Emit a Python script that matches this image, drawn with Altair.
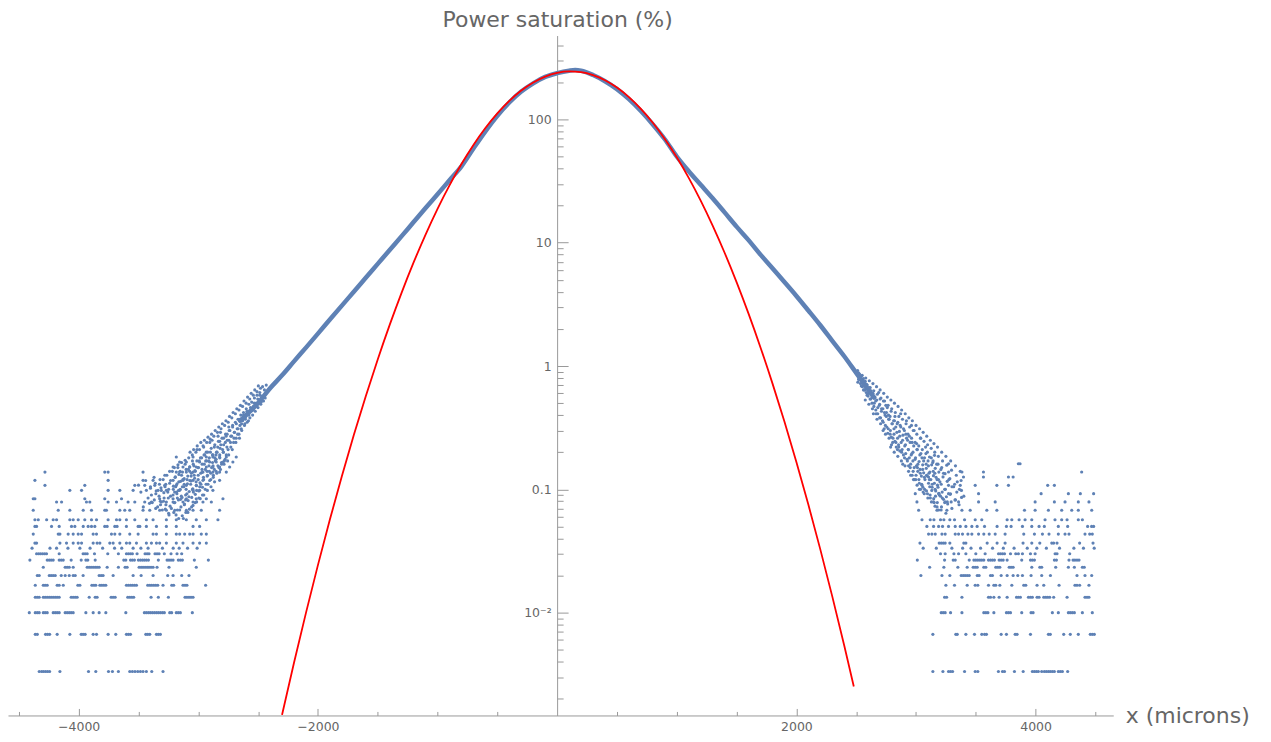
import altair as alt
import pandas as pd

# ---------------- data ----------------
# Gaussian fit (red curve), x in microns, value in %
red_x = [-2300, -2200, -2100, -2000, -1900, -1800, -1700, -1600, -1500, -1400,
         -1300, -1200, -1100, -1000, -900, -800, -700, -600, -500, -400,
         -300, -200, -100, 0, 100, 200, 300, 400, 500, 600,
         700, 800, 900, 1000, 1100, 1200, 1300, 1400, 1500, 1600,
         1700, 1800, 1900, 2000, 2100, 2200, 2300, 2400, 2480]
red_v = [0.001481, 0.00392, 0.00996, 0.02429, 0.05685, 0.1277, 0.2754, 0.5696, 1.131, 2.155,
         3.94, 6.915, 11.64, 18.82, 29.18, 43.45, 62.08, 85.1, 112.0, 141.4,
         171.3, 199.2, 222.4, 238.2, 244.8, 241.5, 228.7, 207.8, 181.2, 151.6,
         121.8, 93.87, 69.41, 49.28, 33.57, 21.95, 13.77, 8.29, 4.792, 2.658,
         1.415, 0.7227, 0.3541, 0.1666, 0.07521, 0.03259, 0.01355, 0.005408, 0.002518]

# dense central band of the measured profile
band_x = [-2650, -2600, -2500, -2400, -2300, -2200, -2100, -2000, -1900, -1800,
          -1700, -1600, -1500, -1400, -1300, -1200, -1100, -1000, -900, -800,
          -700, -600, -500, -400, -300, -200, -100, 0, 100, 150,
          200, 300, 400, 500, 600, 700, 800, 900, 1000, 1100,
          1200, 1300, 1400, 1500, 1600, 1700, 1800, 1900, 2000, 2100,
          2200, 2300, 2400, 2500, 2600, 2650]
band_v = [0.36, 0.40, 0.50, 0.66, 0.84, 1.09, 1.41, 1.83, 2.38, 3.09,
          4.0, 5.19, 6.73, 8.73, 11.3, 14.7, 19.1, 24.7, 32.1, 41.6,
          58, 80, 107, 137, 168, 196, 221, 237, 248, 251,
          248, 229, 204, 176, 146, 117, 91, 69, 50, 38,
          29.5, 22.9, 17.6, 13.5, 10.5, 8.0, 6.2, 4.8, 3.7, 2.82,
          2.14, 1.60, 1.20, 0.88, 0.645, 0.555]

# noisy clouds where the profile meets the noise floor (x, value)
left_cloud = [
    (-2432, 0.70), (-2441, 0.55), (-2447, 0.64), (-2455, 0.52), (-2463, 0.68), (-2470, 0.57),
    (-2478, 0.49), (-2486, 0.61), (-2493, 0.53), (-2501, 0.46), (-2509, 0.58), (-2516, 0.50),
    (-2524, 0.43), (-2531, 0.55), (-2539, 0.47), (-2546, 0.40), (-2554, 0.51), (-2562, 0.44),
    (-2569, 0.38), (-2577, 0.49), (-2584, 0.41), (-2592, 0.35), (-2599, 0.45), (-2607, 0.38),
    (-2614, 0.33), (-2622, 0.42), (-2630, 0.36), (-2637, 0.30), (-2645, 0.40), (-2652, 0.33),
    (-2660, 0.28), (-2668, 0.37), (-2675, 0.31), (-2683, 0.26), (-2690, 0.35), (-2698, 0.29),
    (-2705, 0.24), (-2713, 0.33), (-2721, 0.27), (-2728, 0.22), (-2736, 0.30), (-2744, 0.25),
    (-2751, 0.21), (-2759, 0.28), (-2766, 0.19), (-2774, 0.24), (-2782, 0.17), (-2789, 0.26),
    (-2797, 0.21), (-2805, 0.16), (-2812, 0.23), (-2820, 0.18), (-2828, 0.15), (-2835, 0.27),
    (-2843, 0.20), (-2851, 0.14), (-2858, 0.17), (-2866, 0.22), (-2874, 0.13), (-2881, 0.19),
    (-2889, 0.15), (-2896, 0.12), (-2904, 0.24), (-2912, 0.17), (-2919, 0.11), (-2927, 0.14),
    (-2934, 0.20), (-2942, 0.10), (-2950, 0.16), (-2957, 0.125), (-2965, 0.09), (-2972, 0.18),
    (-2980, 0.135), (-2988, 0.105), (-2995, 0.085), (-3003, 0.15), (-3011, 0.21), (-3018, 0.115),
    (-3026, 0.078), (-3034, 0.13), (-3041, 0.095), (-3049, 0.17), (-3056, 0.072), (-3064, 0.11),
    (-3072, 0.14), (-3079, 0.087), (-3087, 0.065), (-3094, 0.12), (-3102, 0.10), (-3110, 0.16),
    (-3117, 0.075), (-3125, 0.058), (-3133, 0.105), (-3140, 0.13), (-3148, 0.083), (-3156, 0.068),
    (-3163, 0.115), (-3171, 0.15), (-3179, 0.092), (-3186, 0.062), (-3194, 0.125), (-3202, 0.078),
    (-3209, 0.10), (-3217, 0.14), (-3225, 0.07), (-3232, 0.088), (-3240, 0.112), (-3248, 0.064),
    (-3255, 0.095), (-3263, 0.13), (-3271, 0.075), (-3278, 0.105), (-3286, 0.085), (-3294, 0.12),
    (-3301, 0.068), (-3309, 0.098), (-3317, 0.08), (-3325, 0.11), (-3340, 0.072), (-3355, 0.092),
    (-3370, 0.125), (-3385, 0.078), (-3400, 0.102), (-3420, 0.085), (-3440, 0.118), (-3460, 0.072),
    (-3480, 0.095), (-3500, 0.108),
    (-2745, 0.32), (-2768, 0.27), (-2791, 0.20), (-2815, 0.29), (-2838, 0.22), (-2862, 0.18),
    (-2885, 0.25), (-2908, 0.14), (-2931, 0.17), (-2955, 0.22), (-2978, 0.11), (-3001, 0.12),
    (-3025, 0.14), (-3048, 0.10), (-3071, 0.118), (-3095, 0.092), (-3118, 0.11), (-3142, 0.088),
    (-3165, 0.098), (-3189, 0.105), (-2821, 0.245), (-2852, 0.19), (-2877, 0.155), (-2899, 0.20),
    (-2923, 0.13), (-2946, 0.19), (-2969, 0.145), (-2992, 0.17), (-3014, 0.098), (-3037, 0.155),
    (-3060, 0.128), (-3083, 0.145), (-3106, 0.082), (-3129, 0.12), (-3152, 0.14), (-3175, 0.085),
    (-3198, 0.095),
    (-2480, 0.66), (-2486, 0.58), (-2474, 0.51),
    (-2510, 0.62), (-2503, 0.54), (-2517, 0.47), (-2498, 0.69),
    (-2540, 0.58), (-2533, 0.50), (-2547, 0.44), (-2528, 0.64),
    (-2570, 0.54), (-2563, 0.46), (-2577, 0.40), (-2558, 0.60), (-2581, 0.36),
    (-2600, 0.50), (-2593, 0.43), (-2607, 0.37), (-2588, 0.56), (-2611, 0.34),
    (-2630, 0.47), (-2622, 0.40), (-2638, 0.34), (-2618, 0.52), (-2641, 0.31),
    (-2660, 0.44), (-2652, 0.37), (-2668, 0.31), (-2648, 0.48), (-2671, 0.28), (-2656, 0.26),
    (-2690, 0.41), (-2682, 0.34), (-2698, 0.29), (-2678, 0.45), (-2701, 0.26), (-2686, 0.24),
    (-2720, 0.38), (-2713, 0.32), (-2728, 0.27), (-2709, 0.42), (-2731, 0.24), (-2716, 0.21),
    (-2750, 0.35), (-2742, 0.30), (-2758, 0.25), (-2739, 0.39), (-2761, 0.22), (-2746, 0.19),
    (-2755, 0.17), (-2780, 0.33), (-2772, 0.28), (-2788, 0.23), (-2769, 0.36), (-2791, 0.20),
    (-2776, 0.175), (-2785, 0.16), (-2810, 0.31), (-2802, 0.26), (-2818, 0.215), (-2799, 0.34),
    (-2821, 0.19), (-2806, 0.165), (-2815, 0.145), (-2840, 0.29), (-2832, 0.245), (-2848, 0.20),
    (-2829, 0.32), (-2851, 0.175), (-2836, 0.155), (-2845, 0.135), (-2870, 0.27), (-2862, 0.23),
    (-2878, 0.19), (-2859, 0.30), (-2881, 0.165), (-2866, 0.145), (-2875, 0.125), (-2864, 0.115),
    (-2900, 0.255), (-2892, 0.215), (-2908, 0.18), (-2889, 0.28), (-2911, 0.155), (-2896, 0.135),
    (-2905, 0.118), (-2894, 0.105), (-2930, 0.24), (-2922, 0.20), (-2938, 0.17), (-2919, 0.265),
    (-2941, 0.145), (-2926, 0.128), (-2935, 0.11), (-2924, 0.098), (-2960, 0.225), (-2952, 0.19),
    (-2968, 0.16), (-2949, 0.25), (-2971, 0.137), (-2956, 0.12), (-2965, 0.104), (-2954, 0.09),
    (-2990, 0.21), (-2982, 0.18), (-2998, 0.15), (-2979, 0.24), (-3001, 0.13), (-2986, 0.113),
    (-2995, 0.097), (-2984, 0.084), (-3020, 0.20), (-3012, 0.17), (-3028, 0.142), (-3009, 0.225),
    (-3031, 0.123), (-3016, 0.107), (-3025, 0.091), (-3014, 0.079), (-3050, 0.19), (-3042, 0.16),
    (-3058, 0.135), (-3039, 0.21), (-3061, 0.117), (-3046, 0.101), (-3055, 0.086), (-3044, 0.074),
    (-3080, 0.18), (-3072, 0.152), (-3088, 0.128), (-3069, 0.20), (-3091, 0.111), (-3076, 0.096),
    (-3085, 0.081), (-3074, 0.069), (-3110, 0.172), (-3102, 0.145), (-3118, 0.122), (-3121, 0.105),
    (-3106, 0.09), (-3115, 0.076), (-3104, 0.065), (-3140, 0.165), (-3132, 0.138), (-3148, 0.116),
    (-3151, 0.10), (-3136, 0.086), (-3145, 0.072), (-3134, 0.061), (-3170, 0.158), (-3162, 0.132),
    (-3178, 0.111), (-3181, 0.095), (-3166, 0.082), (-3175, 0.068), (-3164, 0.058), (-3200, 0.15),
    (-3192, 0.126), (-3208, 0.106), (-3211, 0.09), (-3196, 0.078), (-3205, 0.065), (-3240, 0.14),
    (-3232, 0.118), (-3248, 0.10), (-3251, 0.085), (-3236, 0.073), (-3245, 0.062), (-3280, 0.13),
    (-3272, 0.11), (-3288, 0.094), (-3291, 0.08), (-3276, 0.069), (-3320, 0.12), (-3312, 0.103),
    (-3328, 0.088), (-3316, 0.075), (-3360, 0.112), (-3352, 0.097), (-3368, 0.082), (-3356, 0.07),
    (-3400, 0.105), (-3392, 0.09), (-3408, 0.077),
]
right_cloud = [
    (2512, 0.92), (2520, 0.78), (2528, 0.86), (2536, 0.72), (2544, 0.83), (2552, 0.68),
    (2560, 0.79), (2568, 0.64), (2576, 0.75), (2584, 0.61), (2592, 0.70), (2600, 0.57),
    (2608, 0.67), (2616, 0.54), (2624, 0.63), (2632, 0.50), (2640, 0.60), (2648, 0.47),
    (2656, 0.56), (2664, 0.44), (2672, 0.53), (2680, 0.41), (2688, 0.61), (2696, 0.49),
    (2704, 0.38), (2712, 0.45), (2720, 0.36), (2728, 0.52), (2736, 0.42), (2744, 0.33),
    (2752, 0.39), (2760, 0.46), (2768, 0.31), (2776, 0.37), (2784, 0.28), (2792, 0.43),
    (2800, 0.34), (2808, 0.26), (2816, 0.31), (2824, 0.39), (2832, 0.24), (2840, 0.29),
    (2848, 0.35), (2856, 0.22), (2864, 0.27), (2872, 0.41), (2880, 0.20), (2888, 0.25),
    (2896, 0.31), (2904, 0.18), (2912, 0.23), (2920, 0.36), (2928, 0.17), (2936, 0.21),
    (2944, 0.27), (2952, 0.15), (2960, 0.19), (2968, 0.24), (2976, 0.14), (2984, 0.30),
    (2992, 0.175), (3000, 0.13), (3008, 0.21), (3016, 0.16), (3024, 0.12), (3032, 0.19),
    (3040, 0.26), (3048, 0.11), (3056, 0.145), (3064, 0.17), (3072, 0.10), (3080, 0.22),
    (3088, 0.13), (3096, 0.092), (3104, 0.155), (3112, 0.12), (3120, 0.085), (3128, 0.18),
    (3136, 0.11), (3144, 0.14), (3152, 0.078), (3160, 0.10), (3168, 0.125), (3176, 0.072),
    (3184, 0.16), (3192, 0.093), (3200, 0.115), (3210, 0.068), (3220, 0.085), (3230, 0.135),
    (3240, 0.10), (3250, 0.064), (3262, 0.079), (3275, 0.12), (3288, 0.092), (3300, 0.07),
    (3315, 0.105), (3330, 0.082), (3345, 0.115), (3360, 0.075), (3380, 0.098), (3400, 0.088),
    (2700, 0.54), (2725, 0.30), (2748, 0.48), (2770, 0.40), (2795, 0.23), (2820, 0.36),
    (2845, 0.21), (2868, 0.33), (2890, 0.16), (2915, 0.28), (2938, 0.155), (2962, 0.33),
    (2985, 0.12), (3005, 0.235), (3028, 0.10), (3050, 0.18), (3070, 0.125), (3095, 0.20),
    (3115, 0.105), (3140, 0.165), (3163, 0.088), (3188, 0.12), (3215, 0.15), (3240, 0.078),
    (2930, 0.25), (2955, 0.13), (2975, 0.20), (3012, 0.15), (3036, 0.135), (3060, 0.095),
    (3085, 0.16), (3108, 0.135), (3132, 0.098), (3158, 0.135), (3180, 0.108), (3205, 0.088),
    (2520, 0.88), (2527, 0.80), (2514, 0.74), (2550, 0.84), (2557, 0.76), (2543, 0.69),
    (2561, 0.64), (2580, 0.80), (2587, 0.71), (2573, 0.64), (2591, 0.58), (2576, 0.53),
    (2610, 0.76), (2617, 0.67), (2603, 0.60), (2621, 0.54), (2606, 0.49), (2640, 0.72),
    (2647, 0.63), (2633, 0.56), (2651, 0.50), (2636, 0.45), (2644, 0.41), (2670, 0.68),
    (2677, 0.59), (2663, 0.52), (2681, 0.46), (2666, 0.41), (2674, 0.37), (2700, 0.64),
    (2707, 0.55), (2693, 0.48), (2711, 0.43), (2696, 0.38), (2704, 0.34), (2730, 0.60),
    (2737, 0.52), (2723, 0.45), (2741, 0.40), (2726, 0.35), (2734, 0.31), (2745, 0.28),
    (2760, 0.56), (2767, 0.48), (2753, 0.42), (2771, 0.37), (2756, 0.32), (2764, 0.285),
    (2775, 0.26), (2790, 0.53), (2797, 0.45), (2783, 0.39), (2801, 0.34), (2786, 0.30),
    (2794, 0.265), (2805, 0.24), (2788, 0.22), (2820, 0.50), (2827, 0.42), (2813, 0.36),
    (2831, 0.32), (2816, 0.28), (2824, 0.245), (2835, 0.22), (2818, 0.20), (2850, 0.47),
    (2857, 0.39), (2843, 0.34), (2861, 0.295), (2846, 0.26), (2854, 0.23), (2865, 0.205),
    (2848, 0.185), (2880, 0.44), (2887, 0.37), (2873, 0.32), (2891, 0.275), (2876, 0.24),
    (2884, 0.21), (2895, 0.19), (2878, 0.17), (2910, 0.41), (2917, 0.34), (2903, 0.30),
    (2921, 0.26), (2906, 0.225), (2914, 0.195), (2925, 0.175), (2908, 0.155), (2940, 0.38),
    (2947, 0.32), (2933, 0.28), (2951, 0.24), (2936, 0.21), (2944, 0.18), (2955, 0.16),
    (2938, 0.14), (2970, 0.36), (2977, 0.30), (2963, 0.26), (2981, 0.225), (2966, 0.195),
    (2974, 0.17), (2985, 0.15), (2968, 0.13), (2979, 0.12), (3000, 0.33), (3007, 0.28),
    (2993, 0.24), (3011, 0.21), (2996, 0.18), (3004, 0.155), (3015, 0.14), (2998, 0.12),
    (3009, 0.108), (3030, 0.31), (3037, 0.26), (3023, 0.225), (3041, 0.195), (3026, 0.168),
    (3034, 0.145), (3045, 0.128), (3028, 0.112), (3039, 0.10), (3060, 0.29), (3067, 0.245),
    (3053, 0.21), (3071, 0.18), (3056, 0.158), (3064, 0.136), (3075, 0.12), (3058, 0.104),
    (3069, 0.092), (3090, 0.27), (3097, 0.23), (3083, 0.195), (3101, 0.17), (3086, 0.148),
    (3094, 0.128), (3105, 0.112), (3088, 0.097), (3099, 0.085), (3120, 0.25), (3127, 0.215),
    (3113, 0.183), (3131, 0.158), (3116, 0.138), (3124, 0.12), (3135, 0.104), (3118, 0.09),
    (3129, 0.079), (3150, 0.235), (3157, 0.20), (3143, 0.17), (3161, 0.148), (3146, 0.129),
    (3154, 0.112), (3165, 0.097), (3148, 0.084), (3159, 0.073), (3180, 0.22), (3187, 0.185),
    (3173, 0.16), (3191, 0.138), (3176, 0.12), (3184, 0.104), (3195, 0.09), (3178, 0.078),
    (3189, 0.068), (3215, 0.20), (3222, 0.17), (3208, 0.145), (3226, 0.126), (3211, 0.11),
    (3219, 0.095), (3230, 0.083), (3213, 0.072), (3250, 0.185), (3257, 0.157), (3243, 0.134),
    (3261, 0.116), (3246, 0.10), (3254, 0.087), (3265, 0.076), (3290, 0.17), (3297, 0.143),
    (3283, 0.122), (3301, 0.105), (3286, 0.091), (3294, 0.079), (3330, 0.155), (3337, 0.13),
    (3323, 0.11), (3341, 0.095), (3326, 0.082), (3370, 0.14), (3377, 0.118), (3363, 0.10),
    (3381, 0.086),
]

# tails: readings lie on discrete levels (value, x positions)
left_rows = [
    (0.003333, [-4330, -4310, -4294, -4277, -4260, -4243, -4157, -3918, -3857, -3751, -3718, -3668,
                -3573, -3551, -3529, -3506, -3484, -3462, -3434, -3389, -3295]),
    (0.006667, [-4363, -4346, -4277, -4260, -4243, -4180, -4074, -3979, -3963, -3946, -3879, -3851,
                -3754, -3690, -3601, -3584, -3567, -3439, -3423, -3406, -3350, -3334, -3317]),
    (0.01, [-4413, -4363, -4346, -4330, -4296, -4280, -4263, -4213, -4196, -4180, -4163, -4113, -4096,
            -4079, -4063, -4046, -3940, -3879, -3829, -3773, -3606, -3451, -3434, -3417, -3401, -3384,
            -3367, -3350, -3334, -3317, -3300, -3284, -3239, -3223, -3184, -3167, -3150, -3050]),
    (0.013333, [-4363, -4346, -4330, -4296, -4280, -4263, -4246, -4230, -4213, -4196, -4180, -4163,
                -4063, -4046, -4029, -4013, -3912, -3862, -3846, -3729, -3712, -3695, -3590, -3573,
                -3556, -3540, -3395, -3334, -3250, -3111, -3095, -3078, -3061, -3044]),
    (0.016667, [-4363, -4296, -4280, -4263, -4180, -4163, -4129, -4007, -3990, -3890, -3873, -3857,
                -3823, -3807, -3790, -3773, -3601, -3584, -3567, -3551, -3534, -3517, -3423, -3406,
                -3390, -3373, -3356, -3339, -3295, -3222, -3206, -3128, -3111, -3095, -2939]),
    (0.02, [-4346, -4330, -4246, -4230, -4213, -4196, -4146, -4113, -4079, -4046, -4029, -3963, -3829,
            -3812, -3796, -3712, -3545, -3478, -3378, -3256, -3211, -3139, -3078]),
    (0.023333, [-4296, -4113, -4096, -4079, -4046, -3929, -3912, -3896, -3879, -3862, -3846, -3829,
                -3762, -3668, -3612, -3595, -3495, -3478, -3462, -3445, -3428, -3412, -3395, -3378,
                -3345, -3245, -3017]),
    (0.026667, [-4408, -4263, -4246, -4230, -4213, -4163, -4146, -4129, -4063, -3979, -3940, -3924,
                -3862, -3623, -3606, -3567, -3551, -3534, -3501, -3484, -3467, -3451, -3434, -3417,
                -3334, -3261, -3245, -3228, -3211, -3167, -3150, -3133, -3033, -2916]),
    (0.03, [-4352, -4335, -4319, -4302, -4285, -4269, -4163, -3963, -3946, -3929, -3868, -3757, -3668,
            -3601, -3584, -3567, -3551, -3512, -3445, -3428, -3412, -3362, -3345, -3328, -3284, -3228,
            -3178, -3139]),
    (0.033333, [-4390, -4240, -4185, -4090, -3990, -3905, -3800, -3700, -3640, -3545, -3480, -3420,
                -3300, -3210, -3160, -3090, -3010]),
    (0.036667, [-4366, -4352, -4157, -4102, -4046, -4004, -3976, -3879, -3846, -3823, -3740, -3712,
                -3656, -3601, -3573, -3517, -3434, -3392, -3350, -3323, -3267, -3184, -3128, -3044,
                -2989, -2933]),
    (0.043333, [-4380, -4171, -4157, -4088, -4046, -4004, -3976, -3879, -3851, -3726, -3698, -3656,
                -3573, -3503, -3378, -3350, -3267, -3184, -3156, -3114, -3072, -3044, -2975, -2933]),
    (0.05, [-4366, -4352, -4227, -4163, -4060, -4032, -3962, -3921, -3893, -3865, -3782, -3762, -3698,
            -3679, -3601, -3503, -3489, -3434, -3350, -3267, -3184, -3044, -2989]),
    (0.056667, [-4366, -4338, -4268, -4213, -4185, -4074, -4046, -4004, -3949, -3893, -3851, -3754,
                -3684, -3656, -3601, -3531, -3434, -3378, -3267, -3184, -3100, -3017, -2933, -2836]),
    (0.0676, [-4380, -4171, -4074, -3962, -3893, -3782, -3768, -3656, -3615, -3573, -3462, -3406,
              -3323, -3267, -3197, -3100, -3044, -2975, -2822]),
    (0.0789, [-4185, -4143, -3935, -3907, -3754, -3684, -3587, -3531, -3448, -3392, -3309, -3267,
              -3211, -3128, -3044, -2961, -2891]),
    (0.0839, [-4380, -4366, -3949, -3782, -3642, -3323, -3211, -3100, -3017, -2933, -2794]),
    (0.0981, [-4074, -3976, -3754, -3656, -3545, -3434, -3336, -3267, -3156, -3044, -2989, -2878]),
    (0.1077, [-4282, -3949, -3531, -3448, -3364, -3281, -3184, -3100, -3017]),
    (0.1182, [-4366, -3754, -3462, -3378, -3211, -3128, -3044, -2961, -2822]),
    (0.138, [-4282, -3782, -3754, -3462, -3184, -3156, -3100, -3044, -2961, -2878, -2822, -2766]),
    (0.1516, [-3211, -3128, -3072, -3017, -2933, -2878, -2822, -2738]),
    (0.1665, [-3156, -3100, -2989, -2905, -2850, -2794, -2711]),
    (0.183, [-3184, -3044, -2933, -2878, -2822, -2766, -2683]),
]
right_rows = [
    (0.003333, [3141, 3225, 3272, 3289, 3306, 3406, 3495, 3517, 3689, 3723, 3740, 3823, 3896, 3973,
                3990, 4007, 4023, 4051, 4073, 4090, 4107, 4123, 4140, 4157, 4190, 4207, 4224, 4268]),
    (0.006667, [3141, 3333, 3345, 3417, 3489, 3550, 3573, 3589, 3712, 3756, 3829, 3845, 3957, 4107,
                4123, 4235, 4290, 4357, 4457, 4474, 4491]),
    (0.01, [3211, 3228, 3244, 3289, 3384, 3567, 3584, 3601, 3651, 3756, 3773, 3790, 3884, 3962, 3979,
            4140, 4190, 4274, 4290, 4307, 4324, 4391, 4474]),
    (0.013333, [3239, 3256, 3384, 3606, 3623, 3651, 3695, 3762, 3840, 3856, 3873, 3940, 3957, 3973,
                4012, 4029, 4068, 4085, 4101, 4118, 4151, 4263, 4413, 4430, 4446]),
    (0.016667, [3250, 3322, 3428, 3495, 3517, 3606, 3651, 3667, 3701, 3801, 3901, 3918, 4012, 4068,
                4196, 4329, 4346, 4368, 4446]),
    (0.02, [3041, 3217, 3283, 3378, 3395, 3411, 3428, 3445, 3512, 3528, 3623, 3639, 3712, 3762, 3812,
            3851, 3890, 3962, 4051, 4124, 4346, 4413, 4469]),
    (0.023333, [3114, 3233, 3350, 3428, 3478, 3495, 3512, 3567, 3584, 3667, 3684, 3701, 3779, 3795,
                3812, 3968, 4035, 4051, 4168, 4274, 4324, 4391, 4407]),
    (0.026667, [3011, 3239, 3311, 3328, 3445, 3484, 3500, 3517, 3534, 3550, 3567, 3606, 3623, 3639,
                3656, 3695, 3712, 3729, 3762, 3884, 3957, 3973, 3990, 4157, 4174, 4279, 4313, 4329,
                4346, 4363]),
    (0.03, [3205, 3244, 3317, 3356, 3417, 3500, 3578, 3690, 3706, 3723, 3740, 3790, 3834, 3856, 3890,
            3957, 3996, 4163, 4179, 4285]),
    (0.033333, [3060, 3170, 3300, 3390, 3460, 3540, 3640, 3730, 3820, 3930, 4010, 4090, 4200, 4320,
                4400, 4490]),
    (0.036667, [3033, 3194, 3211, 3228, 3244, 3283, 3400, 3417, 3595, 3678, 3745, 3895, 3968, 4035,
                4135, 4151, 4179, 4368, 4480]),
    (0.043333, [3105, 3133, 3161, 3217, 3244, 3328, 3356, 3389, 3434, 3467, 3523, 3567, 3612, 3662,
                3745, 3901, 3990, 4057, 4112, 4190, 4246, 4279, 4413, 4452, 4474]),
    (0.05, [3091, 3147, 3189, 3222, 3272, 3328, 3370, 3417, 3467, 3511, 3573, 3678, 3756, 3795, 3890,
            3968, 4029, 4073, 4190, 4268, 4435, 4468, 4485]),
    (0.056667, [3050, 3119, 3150, 3205, 3233, 3283, 3322, 3406, 3495, 3550, 3762, 3801, 3862, 3912,
                3968, 4079, 4162, 4218, 4263, 4357, 4391]),
    (0.0676, [3022, 3175, 3258, 3384, 3453, 3592, 3676, 3907, 3996, 4107, 4218, 4302, 4357, 4469]),
    (0.079, [3008, 3147, 3244, 3356, 3523, 3662, 3996, 4157, 4246, 4357, 4446]),
    (0.0922, [2994, 3189, 3272, 3523, 4046, 4274, 4374, 4485]),
    (0.1077, [3050, 3272, 3370, 3495, 3676, 3773, 4101, 4157]),
    (0.1258, [3105, 3397, 3564, 3773, 3812]),
    (0.1381, [3272, 3384, 3564, 4385]),
    (0.1613, [3272, 3856, 3870]),
    (0.1885, [3155]),
]

# axis ticks
x_ticks = [-4500, -4000, -3500, -3000, -2500, -2000, -1500, -1000, -500,
           500, 1000, 1500, 2000, 2500, 3000, 3500, 4000, 4500]
y_ticks = [0.002, 0.003, 0.004, 0.005, 0.006, 0.007, 0.008, 0.009,
           0.01, 0.02, 0.03, 0.04, 0.05, 0.06, 0.07, 0.08, 0.09,
           0.1, 0.2, 0.3, 0.4, 0.5, 0.6, 0.7, 0.8, 0.9,
           1, 2, 3, 4, 5, 6, 7, 8, 9,
           10, 20, 30, 40, 50, 60, 70, 80, 90,
           100, 200, 300, 400]

# ---------------- build tables ----------------
pts = []
for xx, vv in left_cloud + right_cloud:
    pts.append({"x": xx, "v": vv})
for level, xs in left_rows + right_rows:
    for xx in xs:
        pts.append({"x": xx, "v": level})
pts_df = pd.DataFrame(pts)
band_df = pd.DataFrame({"x": band_x, "v": band_v})
red_df = pd.DataFrame({"x": red_x, "v": red_v})

W, H = 1107, 681
FONT = "DejaVu Sans"
TXT = "#666666"
AX = "#999999"

xscale = alt.Scale(domain=[-4591, 4649], nice=False, zero=False)
yscale = alt.Scale(type="log", domain=[0.001466, 478.6], nice=False)

x_axis = alt.Axis(
    orient="top", offset=-H, values=x_ticks, grid=False,
    title="x (microns)", titleX=W + 12, titleY=0, titleAlign="left", titleBaseline="middle",
    titleAngle=0, titleFont=FONT, titleFontSize=22, titleFontWeight="normal", titleColor=TXT,
    labelExpr="datum.value == -4000 ? '\u22124000' : datum.value == -2000 ? '\u22122000' : "
              "datum.value == 2000 ? '2000' : datum.value == 4000 ? '4000' : ''",
    labelFont=FONT, labelFontSize=12.5, labelColor=TXT, labelPadding=-12,
    labelBaseline="top", labelAlign="center", labelOverlap=False, labelFlush=False, labelBound=False,
    tickSize={"condition": {"test": "datum.value % 2000 === 0", "value": 7}, "value": 4},
    tickColor=AX, tickWidth=1, domainColor=AX, domainWidth=1,
)
y_axis = alt.Axis(
    orient="right", offset=-(W - 550), values=y_ticks, grid=False,
    title="Power saturation (%)", titleX=0, titleY=-9, titleAlign="center",
    titleBaseline="alphabetic",
    titleAngle=0, titleFont=FONT, titleFontSize=22, titleFontWeight="normal", titleColor=TXT,
    labelExpr="datum.value === 100 ? '100' : datum.value === 10 ? '10' : datum.value === 1 ? '1' : "
              "datum.value === 0.1 ? '0.1' : datum.value === 0.01 ? '10\u207b\u00b2' : ''",
    labelFont=FONT, labelFontSize=12.5, labelColor=TXT, labelPadding=-17,
    labelAlign="right", labelBaseline="middle", labelOverlap=False, labelFlush=False, labelBound=False,
    tickSize={"condition": {"test": "indexof([0.01, 0.1, 1, 10, 100], datum.value) >= 0", "value": 11},
              "value": 6},
    tickColor=AX, tickWidth=1, domainColor=AX, domainWidth=1,
)

xe = alt.X("x:Q", scale=xscale, axis=x_axis)
ye = alt.Y("v:Q", scale=yscale, axis=y_axis)

points = alt.Chart(pts_df).mark_circle(size=10, color="#5E81B5", opacity=1).encode(x=xe, y=ye)
band = alt.Chart(band_df).mark_line(color="#5E81B5", strokeWidth=4.5, interpolate="monotone",
                                    strokeCap="round").encode(x=xe, y=ye)
red = alt.Chart(red_df).mark_line(color="#FF0000", strokeWidth=1.8, interpolate="monotone",
                                  clip=True).encode(x=xe, y=ye)

chart = alt.layer(points, band, red).properties(
    width=W, height=H,
    autosize=alt.AutoSizeParams(type="none"),
    padding={"left": 0, "top": 27, "right": 150, "bottom": 22},
    background="white",
).configure_view(strokeWidth=0)

chart.save("out.html", embed_options={"renderer": "svg", "actions": False})
